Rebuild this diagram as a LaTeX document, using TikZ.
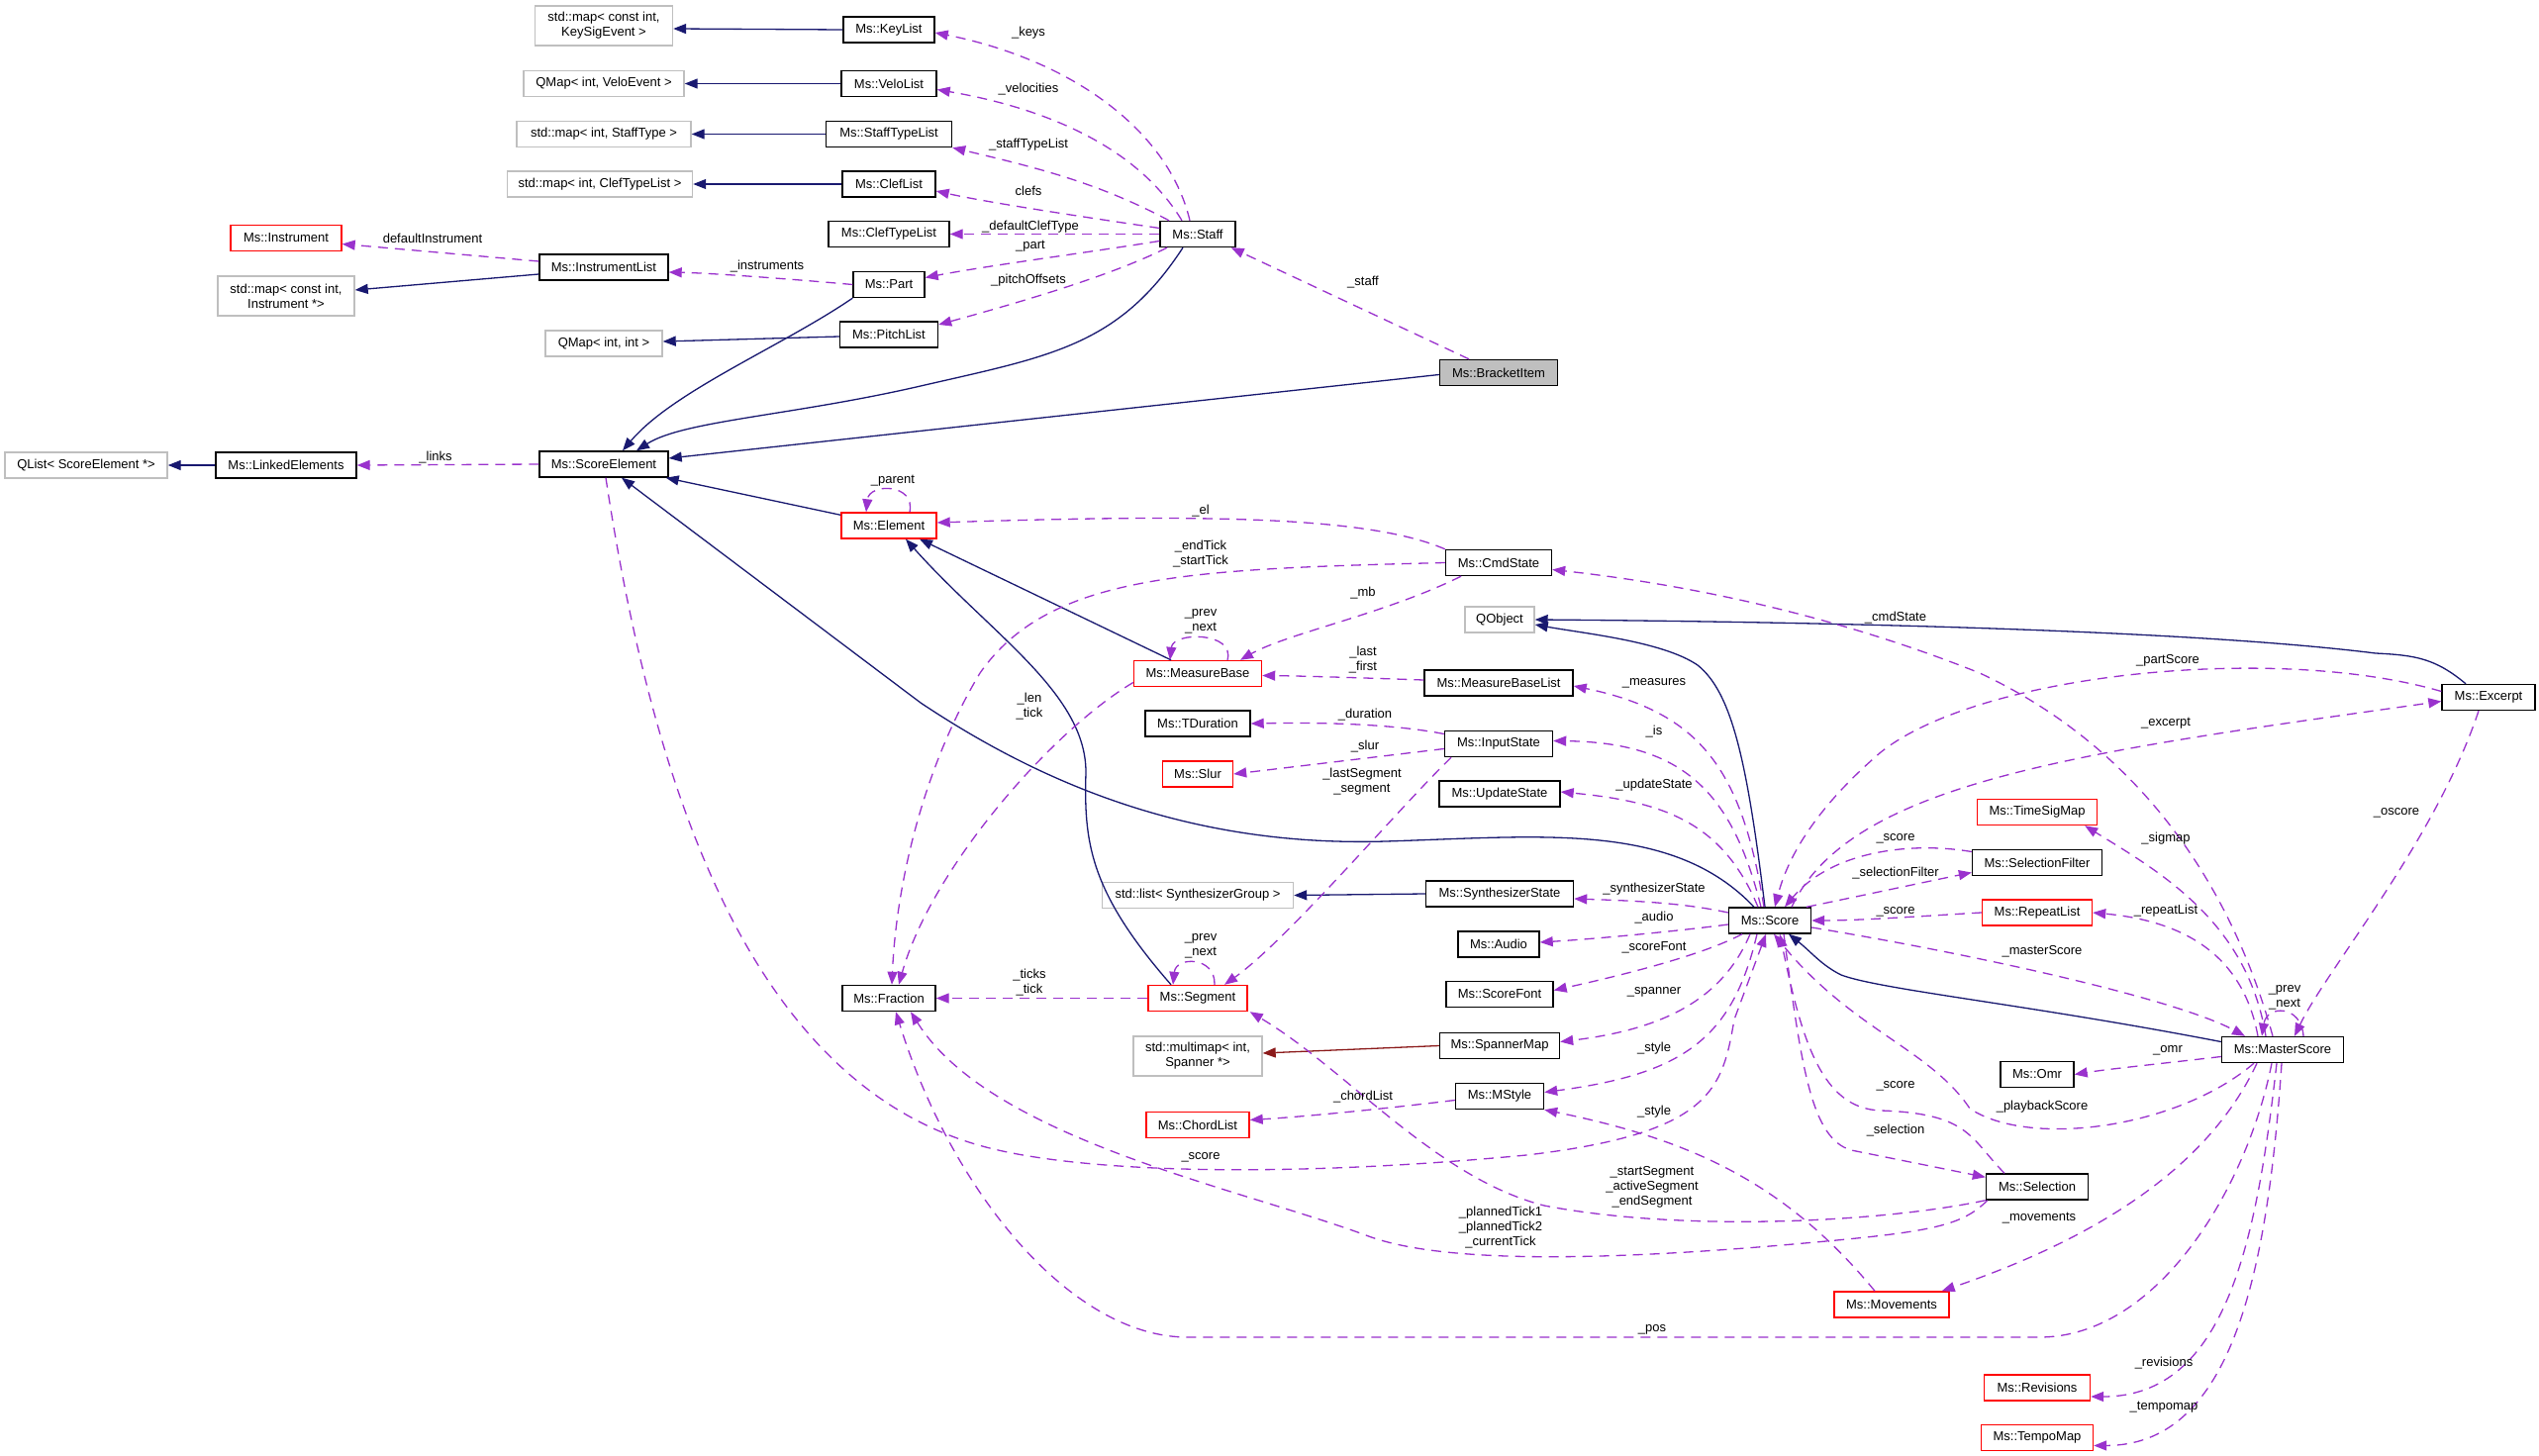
\documentclass[tikz,border=0pt]{standalone}
\usepackage{fontspec}
\setmainfont{Liberation Sans}
\usetikzlibrary{arrows.meta}
\definecolor{navy}{HTML}{191970}
\definecolor{purp}{HTML}{9A32CD}
\definecolor{fireb}{HTML}{8B1A1A}
\definecolor{grayb}{HTML}{BFBFBF}
\newcommand{\nf}{\fontsize{13}{15}\selectfont}
\tikzset{
  cls/.style={draw=black, line width=1.4pt, fill=white, minimum height=26pt, inner sep=2pt, font=\nf},
  extcls/.style={cls, draw=grayb},
  redcls/.style={cls, draw=red},
  twoline/.style={minimum height=40pt, align=center},
  lbl/.style={font=\nf, inner sep=1pt, align=center},
  inh/.style={draw=navy, line width=1.3pt, -{Triangle[length=13pt,width=10pt]}},
  mem/.style={draw=purp, line width=1.3pt, dash pattern=on 10pt off 7pt, -{Triangle[length=13pt,width=10pt]}},
}
\begin{document}
\begin{tikzpicture}[x=1pt,y=-1pt]
\useasboundingbox[fill=white] (0,0) rectangle (2565,1471);
% ---- nodes ----
\node[extcls,twoline,minimum width=139pt] (keysig) at (610,26) {std::map< const int,\\KeySigEvent >};
\node[extcls,minimum width=162pt] (veloev) at (610,84.5) {QMap< int, VeloEvent >};
\node[extcls,minimum width=176pt] (stmap) at (610,135.5) {std::map< int, StaffType >};
\node[extcls,minimum width=187pt] (ctmap) at (606,186) {std::map< int, ClefTypeList >};
\node[redcls,minimum width=112pt] (instr) at (289,240.5) {Ms::Instrument};
\node[cls,minimum width=130pt] (instrlist) at (610,270) {Ms::InstrumentList};
\node[extcls,twoline,minimum width=138pt] (instmap) at (289,299) {std::map< const int,\\Instrument *>};
\node[extcls,minimum width=118pt] (qmapii) at (610,347) {QMap< int, int >};
\node[extcls,minimum width=164pt] (qlist) at (87,470) {QList< ScoreElement *>};
\node[cls,minimum width=142pt] (linked) at (289,470) {Ms::LinkedElements};
\node[cls,minimum width=130pt] (scoreel) at (610,469) {Ms::ScoreElement};
\node[cls,minimum width=92pt] (keylist) at (898,30) {Ms::KeyList};
\node[cls,minimum width=96pt] (velolist) at (898,84.5) {Ms::VeloList};
\node[cls,minimum width=127pt] (stlist) at (898,135.5) {Ms::StaffTypeList};
\node[cls,minimum width=94pt] (cleflist) at (898,186) {Ms::ClefList};
\node[cls,minimum width=122pt] (ctlist) at (898,236.5) {Ms::ClefTypeList};
\node[cls,minimum width=72pt] (part) at (898,287.5) {Ms::Part};
\node[cls,minimum width=99pt] (pitch) at (898,338) {Ms::PitchList};
\node[cls,minimum width=76pt] (staff) at (1210,236.5) {Ms::Staff};
\node[cls,fill=grayb,minimum width=119pt] (bracket) at (1514,376.5) {Ms::BracketItem};
\node[redcls,minimum width=96pt] (element) at (898,531) {Ms::Element};
\node[cls,minimum width=107pt] (cmd) at (1514,568.5) {Ms::CmdState};
\node[extcls,minimum width=70pt] (qobj) at (1515,626) {QObject};
\node[redcls,minimum width=129pt] (mbase) at (1210,680.5) {Ms::MeasureBase};
\node[cls,minimum width=150pt] (mbl) at (1514,690) {Ms::MeasureBaseList};
\node[cls,minimum width=106pt] (tdur) at (1210,731) {Ms::TDuration};
\node[cls,minimum width=109pt] (input) at (1514,751.5) {Ms::InputState};
\node[redcls,minimum width=71pt] (slur) at (1210,782) {Ms::Slur};
\node[cls,minimum width=122pt] (upd) at (1515,802) {Ms::UpdateState};
\node[cls,minimum width=94pt] (excerpt) at (2514,704.5) {Ms::Excerpt};
\node[redcls,minimum width=121pt] (timesig) at (2058,820.5) {Ms::TimeSigMap};
\node[cls,minimum width=131pt] (selfilt) at (2058,871.5) {Ms::SelectionFilter};
\node[extcls,minimum width=193pt] (synlist) at (1210,904.5) {std::list< SynthesizerGroup >};
\node[cls,minimum width=149pt] (synstate) at (1515,903) {Ms::SynthesizerState};
\node[redcls,minimum width=111pt] (repeat) at (2058,922) {Ms::RepeatList};
\node[cls,minimum width=83pt] (score) at (1788,930) {Ms::Score};
\node[cls,minimum width=82pt] (audio) at (1514,954) {Ms::Audio};
\node[cls,minimum width=94pt] (fraction) at (898,1008.5) {Ms::Fraction};
\node[redcls,minimum width=100pt] (segment) at (1210,1008.5) {Ms::Segment};
\node[cls,minimum width=108pt] (scorefont) at (1515,1004.5) {Ms::ScoreFont};
\node[cls,minimum width=121pt] (spanmap) at (1515,1056.5) {Ms::SpannerMap};
\node[extcls,twoline,minimum width=130pt] (multimap) at (1210,1067) {std::multimap< int,\\Spanner *>};
\node[cls,minimum width=123pt] (master) at (2306,1060.5) {Ms::MasterScore};
\node[cls,minimum width=74pt] (omr) at (2058,1085.5) {Ms::Omr};
\node[cls,minimum width=89pt] (mstyle) at (1515,1107.5) {Ms::MStyle};
\node[redcls,minimum width=104pt] (chord) at (1210,1136.5) {Ms::ChordList};
\node[cls,minimum width=103pt] (selection) at (2058,1199) {Ms::Selection};
\node[redcls,minimum width=116pt] (movements) at (1911,1318) {Ms::Movements};
\node[redcls,minimum width=107pt] (revisions) at (2058,1402) {Ms::Revisions};
\node[redcls,minimum width=113pt] (tempomap) at (2058,1452.5) {Ms::TempoMap};
% ---- inheritance ----
\draw[inh] (keylist.west) -- ([yshift=-3pt]keysig.east);
\draw[inh] (velolist.west) -- (veloev.east);
\draw[inh] (stlist.west) -- (stmap.east);
\draw[inh] (cleflist.west) -- (ctmap.east);
\draw[inh] ([yshift=-7pt]instrlist.west) -- ([yshift=6pt]instmap.east);
\draw[inh] ([yshift=-2pt]pitch.west) -- ([yshift=2pt]qmapii.east);
\draw[inh] (linked.west) -- (qlist.east);
\draw[inh] (part.south west) .. controls (790,350) and (680,395) .. ([xshift=19pt]scoreel.north);
\draw[inh] ([xshift=-15pt]staff.south) .. controls (1130,350) and (1060,360) .. (930,390) .. controls (800,420) and (690,425) .. ([xshift=33pt]scoreel.north);
\draw[inh] ([yshift=-2pt]bracket.west) -- ([yshift=6pt]scoreel.east);
\draw[inh] ([yshift=-3pt]element.north west) -- ([xshift=-3pt]scoreel.south east);
\draw[inh] ([xshift=-16pt]score.north) .. controls (1690,830) and (1560,845) .. (1400,850) .. controls (1200,856) and (1050,790) .. (930,710) -- ([xshift=18pt]scoreel.south);
\draw[inh] ([xshift=-27pt]mbase.north) -- ([xshift=31pt]element.south);
\draw[inh] ([xshift=-27pt]segment.north) .. controls (1100,900) and (1095,850) .. (1097,780) .. controls (1097,700) and (1000,640) .. ([xshift=17pt]element.south);
\draw[inh] ([xshift=-5pt]score.north) .. controls (1765,770) and (1750,700) .. (1715,672) .. controls (1680,648) and (1600,640) .. ([yshift=-5pt]qobj.east);
\draw[inh] ([xshift=-23pt]excerpt.north) .. controls (2460,665) and (2440,662) .. (2400,660) .. controls (2200,635) and (1800,628) .. (qobj.east);
\draw[inh] ([yshift=8pt]master.west) .. controls (2050,1015) and (1900,1000) .. (1860,985) .. controls (1840,975) and (1830,962) .. ([xshift=19pt]score.south);
\draw[inh] (synstate.west) -- (synlist.east);
\draw[inh, draw=fireb] (spanmap.west) -- ([yshift=3pt]multimap.east);
% ---- members ----
\draw[mem] ([xshift=-8pt]staff.north) .. controls (1180,130) and (1080,60) .. ([yshift=-3pt]keylist.east);
\draw[mem] ([xshift=-16pt]staff.north) .. controls (1150,150) and (1060,110) .. ([yshift=-6pt]velolist.east);
\draw[mem] ([xshift=-29pt]staff.north) .. controls (1110,185) and (1050,170) .. (stlist.south east);
\draw[mem] ([yshift=6pt]staff.west) .. controls (1100,220) and (1000,205) .. ([yshift=-7pt]cleflist.east);
\draw[mem] (staff.west) -- (ctlist.east);
\draw[mem] ([yshift=-7pt]staff.west) .. controls (1100,255) and (1000,268) .. ([yshift=7pt]part.east);
\draw[mem] ([xshift=-31pt]staff.south) .. controls (1130,275) and (1050,300) .. ([yshift=10pt]pitch.east);
\draw[mem] (part.west) .. controls (800,282) and (720,276) .. ([yshift=-5pt]instrlist.east);
\draw[mem] ([yshift=6pt]instrlist.west) -- ([yshift=-6pt]instr.east);
\draw[mem] ([xshift=-30pt]bracket.north) -- ([xshift=-5pt]staff.south east);
\draw[mem] (scoreel.west) -- (linked.east);
\draw[mem] ([xshift=21pt]element.north) .. controls (925,488) and (878,488) .. ([xshift=-23pt]element.north);
\draw[mem] (cmd.north west) .. controls (1380,520) and (1200,520) .. ([yshift=3pt]element.east);
\draw[mem] (cmd.west) .. controls (1200,575) and (1060,580) .. (990,680) .. controls (930,780) and (905,900) .. ([xshift=3pt]fraction.north);
\draw[mem] ([xshift=-38pt]cmd.south) .. controls (1400,620) and (1300,640) .. ([xshift=43pt]mbase.north);
\draw[mem] ([xshift=30pt]mbase.north) .. controls (1248,638) and (1185,638) .. ([xshift=-28pt]mbase.north);
\draw[mem] ([yshift=3pt]mbl.west) .. controls (1380,685) and (1320,683) .. ([yshift=-2pt]mbase.east);
\draw[mem] ([yshift=-9pt]mbase.west) .. controls (1060,740) and (940,880) .. ([xshift=10pt]fraction.north);
\draw[mem] ([yshift=10pt]input.west) .. controls (1400,730) and (1320,730) .. (tdur.east);
\draw[mem] ([yshift=-5pt]input.west) -- (slur.east);
\draw[mem] ([xshift=-48pt]input.south) .. controls (1410,820) and (1300,950) .. ([xshift=27pt]segment.north);
\draw[mem] ([xshift=17pt]segment.north) .. controls (1228,966) and (1188,966) .. ([xshift=-25pt]segment.north);
\draw[mem] (segment.west) -- (fraction.east);
\draw[mem] ([xshift=-6pt]score.north) .. controls (1760,780) and (1720,720) .. ([yshift=-3pt]mbl.east);
\draw[mem] ([xshift=-9pt]score.north) .. controls (1750,800) and (1700,750) .. ([yshift=3pt]input.east);
\draw[mem] ([xshift=-12pt]score.north) .. controls (1740,830) and (1680,810) .. ([yshift=2pt]upd.east);
\draw[mem] ([yshift=8pt]score.west) .. controls (1700,912) and (1650,910) .. ([yshift=-5pt]synstate.east);
\draw[mem] ([yshift=-4pt]score.west) .. controls (1700,940) and (1620,948) .. ([yshift=2pt]audio.east);
\draw[mem] ([xshift=-28pt]score.south) .. controls (1720,965) and (1640,985) .. ([yshift=4pt]scorefont.east);
\draw[mem] ([xshift=-20pt]score.south) .. controls (1740,1010) and (1680,1040) .. ([yshift=4pt]spanmap.east);
\draw[mem] ([xshift=-13pt]score.south) .. controls (1750,1050) and (1700,1085) .. ([yshift=4pt]mstyle.east);
\draw[mem] ([xshift=2pt]scoreel.south) .. controls (660,800) and (760,1100) .. (1000,1160) .. controls (1100,1185) and (1300,1190) .. (1542,1167) .. controls (1730,1145) and (1740,1100) .. (1752,1030) -- ([xshift=-4pt]score.south);
\draw[mem] ([xshift=-33pt]selection.north) .. controls (1990,1150) and (1990,1125) .. (1900,1122) .. controls (1840,1120) and (1820,1050) .. ([xshift=10pt]score.south);
\draw[mem] ([xshift=14pt]score.south) .. controls (1820,1080) and (1830,1150) .. (1870,1162) -- ([yshift=-4pt]selection.north west);
\draw[mem] ([xshift=-29pt]master.south) .. controls (2200,1140) and (2050,1160) .. (1990,1120) .. controls (1950,1060) and (1870,1040) .. ([xshift=4pt]score.south);
\draw[mem] ([yshift=-7pt]master.west) .. controls (2180,1075) and (2130,1080) .. (omr.east);
\draw[mem] ([yshift=-7pt]score.east) .. controls (2000,965) and (2200,1010) .. ([xshift=-38pt]master.north);
\draw[mem] ([xshift=-25pt]master.north) .. controls (2265,960) and (2200,930) .. (repeat.east);
\draw[mem] ([xshift=-17pt]master.north) .. controls (2270,930) and (2180,880) .. ([xshift=-13pt]timesig.south east);
\draw[mem] (repeat.west) .. controls (1950,925) and (1880,930) .. (score.east);
\draw[mem] ([yshift=11pt]selfilt.west) .. controls (1930,850) and (1850,860) .. ([xshift=15pt]score.north);
\draw[mem] ([xshift=37pt]score.north) .. controls (1880,905) and (1950,890) .. ([yshift=-10pt]selfilt.west);
\draw[mem] ([yshift=6pt]excerpt.west) .. controls (2300,650) and (2000,680) .. (1900,760) .. controls (1830,820) and (1805,870) .. ([xshift=5pt]score.north);
\draw[mem] ([xshift=22pt]score.north) .. controls (1870,790) and (2100,760) .. ([yshift=-4pt]excerpt.west);
\draw[mem] ([xshift=-10pt]master.north) .. controls (2250,880) and (2150,750) .. (2000,680) .. controls (1850,620) and (1700,590) .. ([yshift=-7pt]cmd.east);
\draw[mem] ([xshift=21pt]master.north) .. controls (2325,1015) and (2290,1015) .. ([xshift=-21pt]master.north);
\draw[mem] ([xshift=-10pt]excerpt.south) .. controls (2460,850) and (2350,980) .. ([xshift=12pt]master.north);
\draw[mem] ([xshift=-17pt]movements.north) .. controls (1800,1190) and (1700,1150) .. (mstyle.south east);
\draw[mem] ([xshift=-26pt]master.south) .. controls (2240,1160) and (2150,1240) .. ([xshift=-8pt]movements.north east);
\draw[mem] (selection.south west) .. controls (1900,1235) and (1700,1245) .. (1560,1218) .. controls (1450,1190) and (1360,1080) .. ([xshift=2pt]segment.south east);
\draw[mem] ([xshift=2pt]selection.south west) .. controls (1980,1240) and (1950,1245) .. (1800,1258) .. controls (1600,1275) and (1450,1275) .. (1380,1248) .. controls (1250,1200) and (1000,1150) .. ([xshift=22pt]fraction.south);
\draw[mem] ([xshift=-11pt]master.south) .. controls (2270,1200) and (2180,1351) .. (2060,1351) -- (1200,1351) .. controls (1080,1351) and (960,1200) .. ([xshift=7pt]fraction.south);
\draw[mem] ([xshift=-6pt]master.south) .. controls (2280,1250) and (2250,1411) .. ([yshift=-9pt]revisions.east);
\draw[mem] ([xshift=-1pt]master.south) .. controls (2290,1300) and (2250,1460) .. ([yshift=-8pt]tempomap.east);
\draw[mem] ([yshift=-4pt]mstyle.west) .. controls (1400,1120) and (1320,1128) .. ([yshift=5pt]chord.east);
% ---- labels ----
\node[lbl] (l1) at (1039,33) {\_keys};
\node[lbl] (l2) at (1039,90) {\_velocities};
\node[lbl] (l3) at (1039,146) {\_staffTypeList};
\node[lbl] (l4) at (1039,193) {clefs};
\node[lbl] (l5) at (1041,229) {\_defaultClefType};
\node[lbl] (l6) at (1041,249) {\_part};
\node[lbl] (l7) at (1039,283) {\_pitchOffsets};
\node[lbl] (l8) at (775,269) {\_instruments};
\node[lbl] (l9) at (437,241) {defaultInstrument};
\node[lbl] (l10) at (1377,285) {\_staff};
\node[lbl] (l11) at (440,462) {\_links};
\node[lbl] (l12) at (902,486) {\_parent};
\node[lbl] (l13) at (1213,516) {\_el};
\node[lbl] (l14) at (1213,560) {\_endTick\\\_startTick};
\node[lbl] (l15) at (1377,599) {\_mb};
\node[lbl] (l16) at (1213,628) {\_prev\\\_next};
\node[lbl] (l17) at (1377,667) {\_last\\\_first};
\node[lbl] (l18) at (1040,714) {\_len\\\_tick};
\node[lbl] (l19) at (1379,722) {\_duration};
\node[lbl] (l20) at (1379,754) {\_slur};
\node[lbl] (l21) at (1376,790) {\_lastSegment\\\_segment};
\node[lbl] (l22) at (1213,956) {\_prev\\\_next};
\node[lbl] (l23) at (1040,993) {\_ticks\\\_tick};
\node[lbl] (l24) at (1671,690) {\_measures};
\node[lbl] (l25) at (1671,739) {\_is};
\node[lbl] (l26) at (1671,793) {\_updateState};
\node[lbl] (l27) at (1671,898) {\_synthesizerState};
\node[lbl] (l28) at (1671,927) {\_audio};
\node[lbl] (l29) at (1671,957) {\_scoreFont};
\node[lbl] (l30) at (1671,1002) {\_spanner};
\node[lbl] (l31) at (1671,1059) {\_style};
\node[lbl] (l32) at (1377,1108) {\_chordList};
\node[lbl] (l33) at (1671,1123) {\_style};
\node[lbl] (l34) at (1213,1169) {\_score};
\node[lbl] (l35) at (1669,1199) {\_startSegment\\\_activeSegment\\\_endSegment};
\node[lbl] (l36) at (1516,1240) {\_plannedTick1\\\_plannedTick2\\\_currentTick};
\node[lbl] (l37) at (1669,1343) {\_pos};
\node[lbl] (l38) at (1915,624) {\_cmdState};
\node[lbl] (l39) at (2190,667) {\_partScore};
\node[lbl] (l40) at (2188,731) {\_excerpt};
\node[lbl] (l41) at (2188,847) {\_sigmap};
\node[lbl] (l42) at (1915,847) {\_score};
\node[lbl] (l43) at (1915,882) {\_selectionFilter};
\node[lbl] (l44) at (1915,921) {\_score};
\node[lbl] (l45) at (2188,920) {\_repeatList};
\node[lbl] (l46) at (2063,961) {\_masterScore};
\node[lbl] (l47) at (2308,1008) {\_prev\\\_next};
\node[lbl] (l48) at (2190,1061) {\_omr};
\node[lbl] (l49) at (1915,1097) {\_score};
\node[lbl] (l50) at (2063,1118) {\_playbackScore};
\node[lbl] (l51) at (1915,1142) {\_selection};
\node[lbl] (l52) at (2421,821) {\_oscore};
\node[lbl] (l53) at (2060,1231) {\_movements};
\node[lbl] (l54) at (2186,1377) {\_revisions};
\node[lbl] (l55) at (2186,1422) {\_tempomap};
\end{tikzpicture}
\end{document}
